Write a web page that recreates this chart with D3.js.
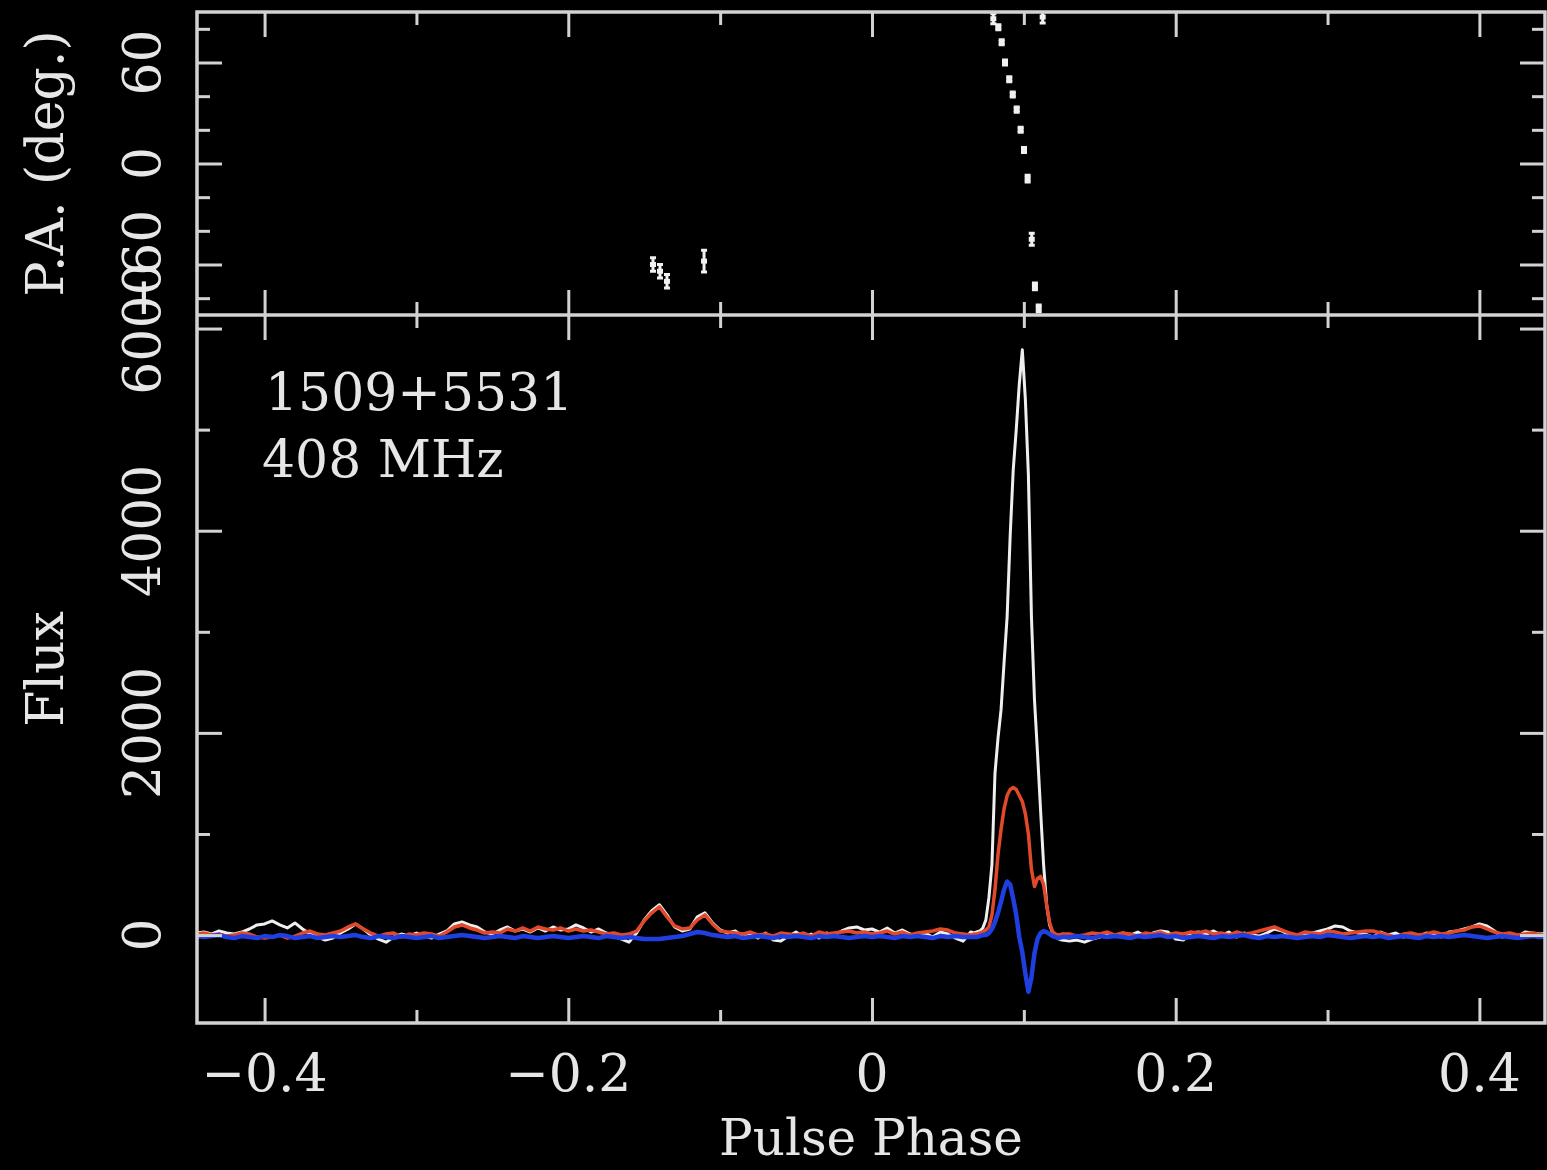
<!DOCTYPE html>
<html>
<head>
<meta charset="utf-8">
<script src="https://cdn.jsdelivr.net/npm/d3@7"></script>
<style>
  body { margin: 0; background: #000; }
  svg { display: block; }
  text { font-family: "DejaVu Serif", serif; fill: #e6e6e6; }
</style>
</head>
<body>
<script>
// pulse phase bins (coarse off-pulse, fine across the pulse)
var phase = [
  -0.445,-0.440,-0.435,-0.430,-0.425,-0.420,-0.415,-0.410,-0.405,-0.400,
  -0.395,-0.390,-0.385,-0.380,-0.375,-0.370,-0.365,-0.360,-0.355,-0.350,
  -0.345,-0.340,-0.335,-0.330,-0.325,-0.320,-0.315,-0.310,-0.305,-0.300,
  -0.295,-0.290,-0.285,-0.280,-0.275,-0.270,-0.265,-0.260,-0.255,-0.250,
  -0.245,-0.240,-0.235,-0.230,-0.225,-0.220,-0.215,-0.210,-0.205,-0.200,
  -0.195,-0.190,-0.185,-0.180,-0.175,-0.170,-0.165,-0.160,-0.155,-0.150,
  -0.145,-0.140,-0.135,-0.130,-0.125,-0.120,-0.115,-0.110,-0.105,-0.100,
  -0.095,-0.090,-0.085,-0.080,-0.075,-0.070,-0.065,-0.060,-0.055,-0.050,
  -0.045,-0.040,-0.035,-0.030,-0.025,-0.020,-0.015,-0.010,-0.005,0.000,
  0.005,0.010,0.015,0.020,0.025,0.030,0.035,0.040,0.045,0.050,
  0.055,0.060,0.065,
  0.067,0.069,0.071,0.073,0.075,0.077,0.079,0.081,0.083,0.085,
  0.087,0.089,0.091,0.093,0.095,0.097,0.099,0.101,0.103,0.105,
  0.107,0.109,0.111,0.113,0.115,0.117,0.119,0.121,0.123,0.125,
  0.130,0.135,0.140,0.145,0.150,0.155,0.160,0.165,0.170,0.175,
  0.180,0.185,0.190,0.195,0.200,0.205,0.210,0.215,0.220,0.225,
  0.230,0.235,0.240,0.245,0.250,0.255,0.260,0.265,0.270,0.275,
  0.280,0.285,0.290,0.295,0.300,0.305,0.310,0.315,0.320,0.325,
  0.330,0.335,0.340,0.345,0.350,0.355,0.360,0.365,0.370,0.375,
  0.380,0.385,0.390,0.395,0.400,0.405,0.410,0.415,0.420,0.425,
  0.430,0.435,0.440,0.445
];

// total intensity (white)
var fluxI = [
  20,30,10,40,20,10,30,60,100,110,
  140,100,70,120,60,10,-20,-50,-30,20,
  60,110,60,0,-40,-70,-20,10,-10,20,
  -10,-30,10,40,110,130,100,80,30,10,
  50,80,40,60,30,70,40,80,50,60,
  100,70,30,60,20,0,-40,-70,20,150,
  240,300,200,80,40,60,180,220,120,50,
  20,40,-20,10,-30,20,-50,-60,-10,30,
  -20,10,-30,20,0,40,70,80,50,60,
  30,70,20,50,10,-10,20,-20,30,10,
  -30,-60,30,
  20,30,40,70,150,370,700,1600,1950,2230,
  2700,3150,3950,4600,5000,5450,5790,5300,4550,3150,
  2330,1800,1240,700,300,100,20,-20,-40,-50,
  -60,-50,-70,-40,-20,10,-10,20,0,30,
  -10,20,40,30,-40,-50,20,30,10,40,
  0,30,-20,20,0,-10,20,60,40,0,
  -20,10,20,40,60,90,80,40,20,10,
  -20,30,0,20,-20,10,-10,20,0,-20,
  30,40,60,80,110,90,40,-20,0,-20,
  30,20,10,20
];

// linear polarisation (red)
var fluxL = [
  10,20,0,10,-10,0,20,10,-20,-30,
  -20,0,-30,-10,20,40,10,0,20,40,
  80,110,60,20,-10,10,20,-20,10,0,
  20,10,-10,30,80,100,70,50,20,30,
  20,60,40,70,40,80,60,50,70,40,
  60,40,50,30,10,20,0,10,40,140,
  220,280,180,90,60,70,150,200,110,40,
  30,20,10,30,0,10,-10,20,10,0,
  20,-10,30,10,20,30,40,20,30,10,
  20,40,10,30,0,20,30,40,60,50,
  20,10,0,
  10,10,20,30,50,80,200,450,800,1050,
  1250,1380,1440,1460,1440,1380,1320,1200,1000,650,
  480,560,580,500,300,120,30,10,0,10,
  10,-10,0,20,10,30,0,20,10,-10,
  20,10,30,0,20,10,30,20,40,10,
  20,0,30,10,20,40,60,80,50,20,
  0,30,20,10,40,30,10,20,30,40,
  40,20,0,-20,10,20,0,10,30,10,
  20,40,50,80,90,60,30,10,20,0,
  10,20,0,10
];

// circular polarisation (blue)
var fluxV = [
  -10,-20,-10,0,-20,-30,-10,-20,-30,-10,
  -20,0,-10,-30,-20,-10,-30,-20,-10,-20,
  -10,0,-20,-30,-10,-20,-30,-10,-20,-30,
  -20,-10,-30,-20,-10,0,-10,-20,-30,-20,
  -10,-20,-30,-10,-20,-30,-20,-10,-20,-30,
  -20,-10,-20,-30,-10,-20,-30,-20,-30,-40,
  -40,-40,-30,-20,-10,10,30,20,0,-10,
  -20,-10,-30,-20,-10,-20,-30,-10,-20,-10,
  -20,-30,-10,-20,-10,-20,-30,-20,-10,-20,
  -10,-20,-30,-10,-20,-10,-20,-30,-10,-20,
  -10,-20,-20,
  -20,-20,-10,0,0,20,60,130,220,330,
  450,530,500,360,200,-20,-170,-380,-560,-420,
  -180,-40,20,40,30,10,-10,-20,-30,-20,
  -20,-10,-20,-30,-10,-20,-10,-20,-30,-10,
  -20,-10,0,-20,-10,-30,-20,-10,-20,-30,
  -10,-20,-10,0,-20,-30,-10,-20,-10,-20,
  -30,-20,-10,-20,0,-10,-20,-30,-20,-10,
  -20,-10,-30,-20,-10,-20,-30,-10,-20,-10,
  -20,-10,0,-10,-20,-30,-20,-10,-20,-30,
  -20,-10,-20,-10
];

// position angle points
var paPhase = [-0.1442,-0.1396,-0.1350,-0.1106,0.0799,0.0832,0.0854,0.0876,0.0904,0.0927,0.0953,0.0979,0.1001,0.1025,0.1052,0.1073,0.1098,0.1124];
var paDeg   = [-60,-64,-70,-58,86,81,72,60,50,41,32,20,8,-9,-45,-73,-86,87];
var paErr   = [4,4,4,6.5,3,1.5,1.5,1.5,1.5,1.5,1.5,1.5,1.5,2,3.5,2,2,3.5];

var xMajor = [-0.4,-0.2,0,0.2,0.4], xMinor = [-0.3,-0.1,0.1,0.3];
var paMajor = [-60,0,60], paMinor = [-80,-40,-20,20,40,80];
var fMajor = [0,2000,4000,6000], fMinor = [1000,3000,5000];

var W = 1547, H = 1170;
var L = 197, R = 1545, T = 12, MID = 315, B = 1023;
var axisCol = "#d2d2d2";

var svg = d3.select("body").append("svg").attr("width", W).attr("height", H)
  .style("background", "#000");

var x = d3.scaleLinear().domain([-0.4445, 0.4432]).range([L, R]);
var yPA = d3.scaleLinear().domain([-90, 90]).range([MID, T]);
var yF = d3.scaleLinear().domain([-870, 6134]).range([B, MID]);

var fmt = function(d) { return d === 0 ? "0" : d3.format(".1f")(d); };

// clip regions
var defs = svg.append("defs");
defs.append("clipPath").attr("id", "clipTop").append("rect")
  .attr("x", L).attr("y", T).attr("width", R - L).attr("height", MID - T);
defs.append("clipPath").attr("id", "clipBot").append("rect")
  .attr("x", L).attr("y", MID).attr("width", R - L).attr("height", B - MID);

// profiles
var rows = phase.map(function(p, i) { return {p: p, I: fluxI[i], Lp: fluxL[i], V: fluxV[i]}; });
var plot = svg.append("g").attr("clip-path", "url(#clipBot)");
[["I", "#efefef", 3], ["Lp", "#e2492a", 3.5], ["V", "#1f3fe0", 4.5]].forEach(function(s) {
  plot.append("path").datum(rows)
    .attr("fill", "none").attr("stroke", s[1]).attr("stroke-width", s[2])
    .attr("stroke-linejoin", "round")
    .attr("d", d3.line().x(function(d) { return x(d.p); }).y(function(d) { return yF(d[s[0]]); }));
});

// P.A. points with error bars
var pa = svg.append("g").attr("clip-path", "url(#clipTop)");
paPhase.forEach(function(p, i) {
  var cx = x(p), y0 = yPA(paDeg[i] - paErr[i]), y1 = yPA(paDeg[i] + paErr[i]);
  pa.append("path")
    .attr("d", "M" + cx + "," + y0 + "V" + y1 + "M" + (cx - 3) + "," + y0 + "H" + (cx + 3) + "M" + (cx - 3) + "," + y1 + "H" + (cx + 3))
    .attr("stroke", "#f0f0f0").attr("stroke-width", 3).attr("fill", "none");
  pa.append("rect").attr("x", cx - 3).attr("y", yPA(paDeg[i]) - 2.5).attr("width", 6).attr("height", 5)
    .attr("fill", "#f0f0f0");
});

// ticks via d3 axes, PGPLOT style (inward on all sides)
function ticks(axisFn, scale, vals, size, tx, ty) {
  var g = svg.append("g").attr("transform", "translate(" + tx + "," + ty + ")")
    .call(axisFn(scale).tickValues(vals).tickSize(size).tickFormat(""));
  g.select(".domain").remove();
  g.selectAll("line").attr("stroke", axisCol).attr("stroke-width", 3);
}
[[xMajor, 25], [xMinor, 13]].forEach(function(t) {
  ticks(d3.axisTop, x, t[0], -t[1], 0, T);
  ticks(d3.axisBottom, x, t[0], -t[1], 0, MID);
  ticks(d3.axisTop, x, t[0], -t[1], 0, MID);
  ticks(d3.axisBottom, x, t[0], -t[1], 0, B);
});
[[paMajor, 25], [paMinor, 13]].forEach(function(t) {
  ticks(d3.axisLeft, yPA, t[0], -t[1], L, 0);
  ticks(d3.axisRight, yPA, t[0], -t[1], R, 0);
});
[[fMajor, 25], [fMinor, 13]].forEach(function(t) {
  ticks(d3.axisLeft, yF, t[0], -t[1], L, 0);
  ticks(d3.axisRight, yF, t[0], -t[1], R, 0);
});

// frame
svg.append("rect").attr("x", L).attr("y", T).attr("width", R - L).attr("height", B - T)
  .attr("fill", "none").attr("stroke", axisCol).attr("stroke-width", 3.5);
svg.append("line").attr("x1", L).attr("x2", R).attr("y1", MID).attr("y2", MID)
  .attr("stroke", axisCol).attr("stroke-width", 3.5);

// labels
var fs = 52;
svg.selectAll("text.xl").data(xMajor).enter().append("text")
  .attr("x", function(d) { return x(d); }).attr("y", 1091)
  .attr("text-anchor", "middle").attr("font-size", fs).text(fmt);

function yLabels(vals, scale) {
  svg.selectAll(null).data(vals).enter().append("text")
    .attr("transform", function(d) { return "translate(160," + scale(d) + ") rotate(-90)"; })
    .attr("text-anchor", "middle").attr("font-size", fs)
    .text(function(d) { return d3.format("d")(d); });
}
yLabels(paMajor, yPA);
yLabels(fMajor, yF);

svg.append("text").attr("transform", "translate(63," + yPA(0) + ") rotate(-90)")
  .attr("text-anchor", "middle").attr("font-size", fs).text("P.A. (deg.)");
svg.append("text").attr("transform", "translate(63," + (MID + B) / 2 + ") rotate(-90)")
  .attr("text-anchor", "middle").attr("font-size", fs).text("Flux");
svg.append("text").attr("x", (L + R) / 2).attr("y", 1155)
  .attr("text-anchor", "middle").attr("font-size", 50).text("Pulse Phase");

svg.append("text").attr("x", 265).attr("y", 410).attr("font-size", fs).text("1509+5531");
svg.append("text").attr("x", 262).attr("y", 477).attr("font-size", fs).text("408 MHz");
</script>
</body>
</html>
